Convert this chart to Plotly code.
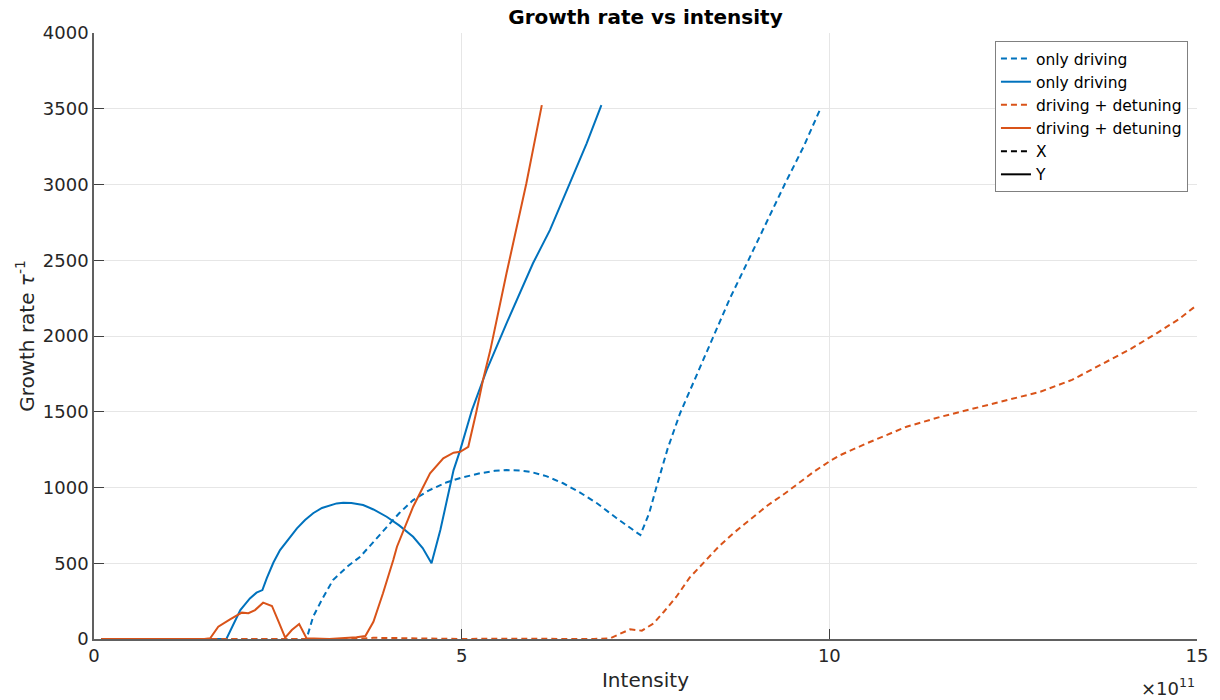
import plotly.graph_objects as go

# Intensity values are in units of 1e11
od_x_int = [0.1, 0.5, 1.0, 1.5, 2.0, 2.5, 2.89, 2.98, 3.1, 3.25, 3.45, 3.62, 3.8, 3.98, 4.15, 4.34, 4.55,
            4.80, 5.0, 5.25, 5.45, 5.61, 5.8, 5.93, 6.15, 6.38, 6.6, 6.84, 7.1, 7.43, 7.55, 7.65, 7.8,
            7.97, 8.2, 8.42, 8.65, 8.9, 9.15, 9.4, 9.65, 9.87]
od_x_rate = [0, 0, 0, 0, 0, 0, 0, 147, 260, 389, 480, 543, 640, 741, 830, 917, 980,
             1035, 1065, 1094, 1110, 1115, 1112, 1104, 1075, 1028, 970, 896, 800, 686, 830, 1005, 1255,
             1490, 1750, 2000, 2250, 2501, 2760, 3008, 3250, 3491]

od_y_int = [0.1, 0.5, 1.0, 1.5, 1.8, 1.99, 2.12, 2.21, 2.29, 2.35, 2.44, 2.53, 2.65, 2.76, 2.87, 2.98,
            3.1, 3.21, 3.3, 3.39, 3.5, 3.66, 3.8, 3.98, 4.15, 4.34, 4.47, 4.59, 4.71, 4.80, 4.89, 4.98,
            5.14, 5.34, 5.61, 5.97, 6.20, 6.47, 6.70, 6.90]
od_y_rate = [0, 0, 0, 0, 0, 191, 268, 306, 323, 402, 505, 587, 665, 730, 785, 830,
             865, 884, 895, 900, 898, 884, 855, 807, 750, 675, 600, 500, 719, 917, 1115, 1247,
             1511, 1775, 2084, 2480, 2699, 3008, 3272, 3524]

dd_x_int = [0.1, 0.5, 1.0, 1.5, 2.0, 2.5, 3.0, 3.5, 3.8, 4.2, 4.6, 5.0, 5.5, 6.0, 6.5, 6.8, 7.02, 7.15,
            7.29, 7.45, 7.61, 7.75, 7.92, 8.1, 8.33, 8.5, 8.70, 8.9, 9.15, 9.4, 9.60, 9.8, 10.01, 10.15,
            10.5, 11.05, 11.5, 11.96, 12.4, 12.87, 13.3, 13.77, 14.1, 14.45, 14.75, 14.97]
dd_x_rate = [0, 0, 0, 0, 0, 0, 0, 0, 8, 5, 2, 0, 2, 0, -3, 0, 5, 35,
             64, 55, 103, 180, 279, 405, 521, 612, 700, 782, 878, 962, 1035, 1108, 1175, 1214,
             1290, 1401, 1465, 1522, 1575, 1632, 1710, 1830, 1915, 2018, 2110, 2193]

dd_y_int = [0.1, 0.5, 1.0, 1.5, 1.58, 1.69, 1.85, 2.01, 2.10, 2.19, 2.30, 2.42, 2.51, 2.60, 2.69, 2.79,
            2.89, 3.2, 3.57, 3.69, 3.80, 3.93, 4.07, 4.12, 4.34, 4.57, 4.75, 4.89, 4.98, 5.09, 5.2,
            5.29, 5.39, 5.61, 5.88, 6.09]
dd_y_rate = [0, 0, 0, 0, 5, 81, 130, 174, 170, 191, 240, 218, 114, 9, 59, 99,
             5, 0, 11, 20, 114, 302, 521, 609, 873, 1094, 1193, 1230, 1236, 1269, 1500,
             1709, 1907, 2414, 3008, 3524]

x_ticks = [0, 5, 10, 15]
y_ticks = [0, 500, 1000, 1500, 2000, 2500, 3000, 3500, 4000]

BLUE = "#0072BD"
ORANGE = "#D95319"
DASH = "6px,4px"
LW = 2

fig = go.Figure()
fig.add_trace(go.Scatter(x=od_x_int, y=od_x_rate, mode="lines", name="only driving",
                         line=dict(color=BLUE, width=LW, dash=DASH)))
fig.add_trace(go.Scatter(x=od_y_int, y=od_y_rate, mode="lines", name="only driving",
                         line=dict(color=BLUE, width=LW)))
fig.add_trace(go.Scatter(x=dd_x_int, y=dd_x_rate, mode="lines", name="driving + detuning",
                         line=dict(color=ORANGE, width=LW, dash=DASH)))
fig.add_trace(go.Scatter(x=dd_y_int, y=dd_y_rate, mode="lines", name="driving + detuning",
                         line=dict(color=ORANGE, width=LW)))
fig.add_trace(go.Scatter(x=[None], y=[None], mode="lines", name="X",
                         line=dict(color="black", width=LW, dash=DASH)))
fig.add_trace(go.Scatter(x=[None], y=[None], mode="lines", name="Y",
                         line=dict(color="black", width=LW)))

font_family = "DejaVu Sans"
fig.update_layout(
    width=1220, height=700,
    margin=dict(l=94, r=23, t=33, b=61),
    paper_bgcolor="white", plot_bgcolor="white",
    font=dict(family=font_family, color="#262626", size=18),
    title=dict(text="<b>Growth rate vs intensity</b>", x=0.5, xref="paper", xanchor="center",
               y=0.976, yanchor="middle", font=dict(size=20, color="black")),
    showlegend=True,
    legend=dict(x=0.9918, y=0.9868, xanchor="right", yanchor="top",
                bgcolor="white", bordercolor="#808080", borderwidth=1,
                font=dict(size=15.5, color="black"), tracegroupgap=0,
                itemwidth=30),
    xaxis=dict(range=[0, 15], tickvals=x_ticks, ticktext=[str(v) for v in x_ticks],
               showgrid=True, gridcolor="#e6e6e6", gridwidth=1,
               showline=True, linecolor="#606060", linewidth=1.5,
               ticks="inside", ticklen=10, tickcolor="#404040",
               zeroline=False, title=dict(text="Intensity", font=dict(size=20), standoff=8),
               automargin=False),
    yaxis=dict(range=[0, 4000], tickvals=y_ticks,
               showgrid=True, gridcolor="#e6e6e6", gridwidth=1,
               showline=True, linecolor="#606060", linewidth=1.5,
               ticks="inside", ticklen=10, tickcolor="#404040",
               zeroline=False,
               title=dict(text="Growth rate <i>τ</i><sup>-1</sup>", font=dict(size=20), standoff=3),
               automargin=False),
)

fig.add_annotation(text="×10<sup>11</sup>", xref="paper", yref="paper", x=1.0, y=-0.08,
                   xanchor="right", yanchor="middle", showarrow=False,
                   font=dict(size=18, color="#262626"))

fig.write_html("out.html")
